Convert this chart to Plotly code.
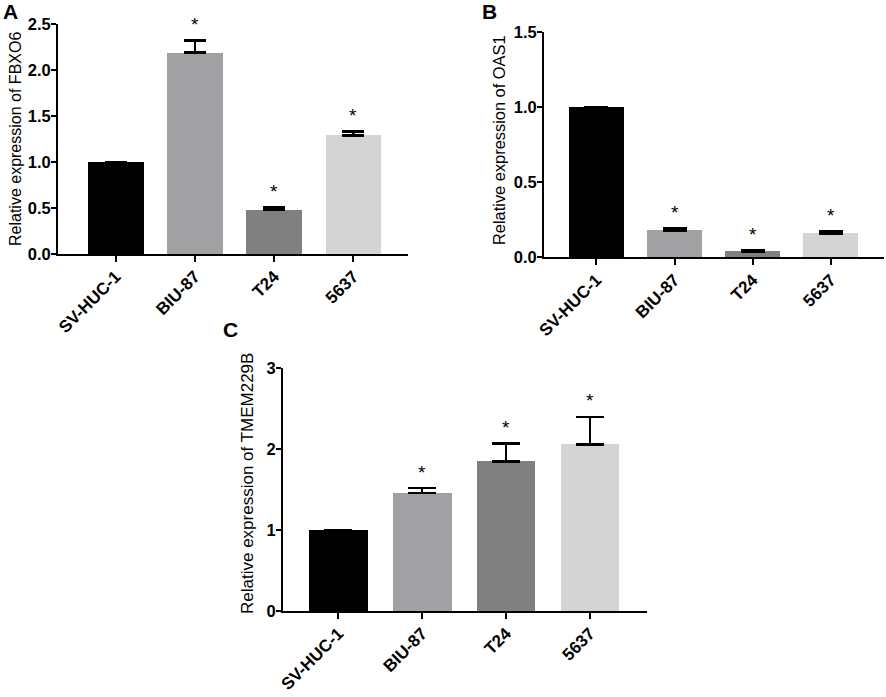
import plotly.graph_objects as go

# cell lines (same order in every panel)
cell_lines = ['SV-HUC-1', 'BIU-87', 'T24', '5637']

# relative expression (mean and upper SD)
fbxo6_mean = [1.00, 2.19, 0.48, 1.29]
fbxo6_err = [0.0, 0.13, 0.025, 0.04]

oas1_mean = [1.00, 0.18, 0.04, 0.16]
oas1_err = [0.0, 0.015, 0.005, 0.015]

tmem229b_mean = [1.00, 1.46, 1.85, 2.06]
tmem229b_err = [0.0, 0.06, 0.22, 0.34]

# which bars carry a significance star
starred = [False, True, True, True]

bar_colors = ['#000000', '#a1a1a4', '#808080', '#d4d4d4']
FONT = 'Liberation Sans, Arial, sans-serif'

W, H = 886, 697


def px_x(p):
    return p / W


def px_y(p):
    return 1 - p / H


panels = [
    # letter, means, errs, y range, dtick, tickformat, title, title size,
    # x px domain, y px domain, cap half-width, x range, title pos (px), letter pos (px)
    ('A', fbxo6_mean, fbxo6_err, [0, 2.5], 0.5, '.1f', 'Relative expression of FBXO6', 16,
     (58, 408), (24, 254), 11, [-0.73, 3.69], (15, 139), (10, 12)),
    ('B', oas1_mean, oas1_err, [0, 1.5], 0.5, '.1f', 'Relative expression of OAS1', 16.4,
     (544, 884), (32.3, 257.3), 12, [-0.67, 3.68], (499, 140), (489, 12)),
    ('C', tmem229b_mean, tmem229b_err, [0, 3], 1, 'd', 'Relative expression of TMEM229B', 17,
     (283, 647), (368.3, 611), 14, [-0.66, 3.68], (247, 484), (230, 330)),
]

fig = go.Figure()
annotations = []
layout_axes = {}

for i, (lab, means, errs, yr, dt, fmt, title, tsize, xd, yd, capw, xr, tpos, lpos) in enumerate(panels):
    n = '' if i == 0 else str(i + 1)
    xa, ya = 'x' + n, 'y' + n
    fig.add_trace(go.Bar(
        x=list(range(len(cell_lines))),
        y=means,
        width=0.7,
        marker=dict(color=bar_colors, line=dict(width=0)),
        error_y=dict(type='data', symmetric=False, array=errs,
                     arrayminus=[0] * len(errs), color='black',
                     thickness=2.4, width=capw),
        xaxis=xa, yaxis=ya, showlegend=False, hoverinfo='skip',
    ))
    layout_axes['xaxis' + n] = dict(
        domain=[px_x(xd[0]), px_x(xd[1])], anchor=ya, range=xr,
        tickmode='array', tickvals=list(range(len(cell_lines))), ticktext=cell_lines,
        tickangle=-45, ticks='outside', ticklen=6, tickwidth=2, tickcolor='black',
        ticklabelstandoff=-2,
        showline=True, linewidth=2, linecolor='black', showgrid=False, zeroline=False,
        tickfont=dict(family=FONT, size=17, color='black', weight='bold'),
        automargin=False, fixedrange=True,
    )
    layout_axes['yaxis' + n] = dict(
        domain=[px_y(yd[1]), px_y(yd[0])], anchor=xa, range=yr, dtick=dt,
        tickformat=fmt, ticks='outside', ticklen=5, tickwidth=2, tickcolor='black',
        ticklabelstandoff=-3,
        showline=True, linewidth=2, linecolor='black', showgrid=False, zeroline=False,
        tickfont=dict(family=FONT, size=16.5, color='black', weight='bold'),
        automargin=False, fixedrange=True,
    )
    annotations.append(dict(
        x=px_x(tpos[0]), y=px_y(tpos[1]), xref='paper', yref='paper', text=title,
        textangle=-90, showarrow=False, xanchor='center', yanchor='middle',
        font=dict(family=FONT, size=tsize, color='black'),
    ))
    annotations.append(dict(
        x=px_x(lpos[0]), y=px_y(lpos[1]), xref='paper', yref='paper', text=lab,
        showarrow=False, xanchor='center', yanchor='middle',
        font=dict(family=FONT, size=21, color='black', weight='bold'),
    ))
    for j, (m, e) in enumerate(zip(means, errs)):
        if starred[j]:
            annotations.append(dict(
                x=j, y=m + e, xref=xa, yref=ya, text='*', showarrow=False,
                yanchor='middle', yshift=16,
                font=dict(family=FONT, size=19, color='black'),
            ))

fig.update_layout(
    width=W, height=H, autosize=False,
    margin=dict(l=0, r=0, t=0, b=0),
    paper_bgcolor='white', plot_bgcolor='white',
    annotations=annotations,
    bargap=0,
    **layout_axes,
)

# the page body has an 8px default margin; drop it so the figure sits at 0,0
fig.write_html('out.html', config={'displayModeBar': False},
               post_script="document.body.style.margin='0';")
